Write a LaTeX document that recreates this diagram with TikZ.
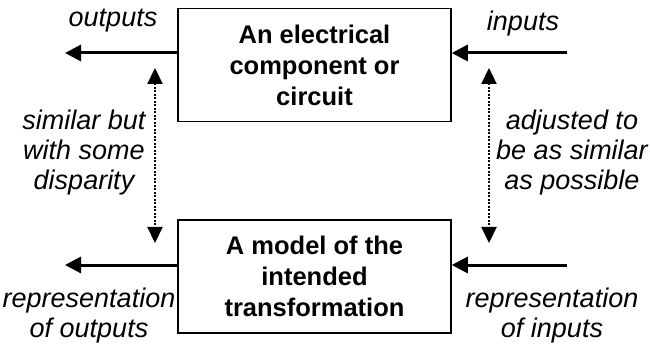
\documentclass[tikz,border=0pt]{standalone}
\usepackage{fontspec}
\setmainfont{Liberation Sans}
\usepackage{tikz}
\usetikzlibrary{arrows.meta,positioning}
\tikzset{%
  blockBox/.style={%
    rectangle,
    draw=black,
    line width=1.5pt,
    minimum width=273pt,
    minimum height=113pt,
    inner sep=0pt,
    align=center,
    font=\bfseries\fontsize{25.5}{31}\selectfont
  },
  flowArrow/.style={%
    -{Triangle[length=16pt,width=16pt]},
    line width=3pt
  },
  simArrow/.style={%
    {Triangle[length=16pt,width=15pt]}-{Triangle[length=16pt,width=15pt]},
    line width=2.2pt,
    dash pattern=on 2pt off 1.5pt
  },
  noteText/.style={%
    align=center,
    inner sep=0pt,
    font=\itshape\fontsize{27}{30}\selectfont
  }
}
\begin{document}
\begin{tikzpicture}[x=1pt, y=-1pt]
  \useasboundingbox (0,0) rectangle (650,347);

  \node[blockBox] (circuit) at (314.5,65) {An electrical\\component or\\circuit};
  \node[blockBox] (model) at (314.5,276.5) {A model of the\\intended\\transformation};

  \coordinate (outEnd) at (65,53);
  \coordinate (inStart) at (567,53);
  \coordinate (repOutEnd) at (65,265);
  \coordinate (repInStart) at (567,265);

  \draw[flowArrow] (circuit.west |- outEnd) -- (outEnd);
  \draw[flowArrow] (inStart) -- (circuit.east |- inStart);
  \draw[flowArrow] (model.west |- repOutEnd) -- (repOutEnd);
  \draw[flowArrow] (repInStart) -- (model.east |- repInStart);

  \coordinate (simTop) at (155,68);
  \coordinate (simBot) at (155,243);
  \coordinate (adjTop) at (489,68);
  \coordinate (adjBot) at (489,243);
  \draw[simArrow] (simTop) -- (simBot);
  \draw[simArrow] (adjTop) -- (adjBot);

  \node[noteText] (outLbl) at (113,21) {outputs};
  \node[noteText] (inLbl) at (523,24) {inputs};
  \node[noteText] (simLbl) at (84,153) {similar but\\with some\\disparity};
  \node[noteText] (adjLbl) at (572,153) {adjusted to\\be as similar\\as possible};
  \node[noteText] (repOutLbl) at (89,316) {representation\\of outputs};
  \node[noteText] (repInLbl) at (552,316) {representation\\of inputs};
\end{tikzpicture}
\end{document}
